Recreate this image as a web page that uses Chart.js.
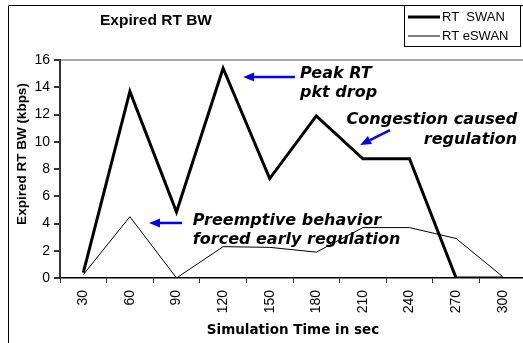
<!DOCTYPE html>
<html>
<head>
<meta charset="utf-8">
<script src="https://cdn.jsdelivr.net/npm/chart.js@4.4.0/dist/chart.umd.min.js"></script>
<style>
  html, body { margin: 0; padding: 0; background: #fff; overflow: hidden; }
  canvas { display: block; }
</style>
</head>
<body>
<canvas id="chart" width="527" height="343"></canvas>
<script>
const chartTitle = "Expired RT BW";
const xTitle = "Simulation Time in sec";
const yTitle = "Expired RT BW (kbps)";

const times = [30, 60, 90, 120, 150, 180, 210, 240, 270, 300];
const swanValues = [0.4, 13.7, 4.85, 15.4, 7.3, 11.9, 8.75, 8.75, 0, 0];
const eswanValues = [0.25, 4.5, 0, 2.3, 2.25, 1.9, 3.7, 3.7, 2.9, 0.1];
const seriesNames = ["RT  SWAN", "RT eSWAN"];
const yTicks = [0, 2, 4, 6, 8, 10, 12, 14, 16];

// callouts, placed in data units (category index, kbps)
const notes = [
  { lines: ["Peak RT", "pkt drop"], x: 4.65, y: 14.68, align: "left", arrow: [4.54, 14.75, 3.43, 14.75] },
  { lines: ["Congestion caused", "regulation"], x: 9.31, y: 11.3, align: "right", arrow: [6.58, 10.86, 5.94, 9.76] },
  { lines: ["Preemptive behavior", "forced early regulation"], x: 2.35, y: 3.89, align: "left", arrow: [2.12, 4.04, 1.41, 4.04] }
];

const sansFont = '"Liberation Sans", Arial, sans-serif';
const noteFont = 'italic bold 16px "DejaVu Sans", Verdana, sans-serif';

// frame, title, legend, y title and callouts
const decor = {
  id: "decor",
  afterDatasetsDraw(chart) {
    const c = chart.ctx;
    const area = chart.chartArea;
    const xs = chart.scales.x;
    const ys = chart.scales.y;
    c.save();

    // outer frame (left + top edges visible)
    c.strokeStyle = "#000";
    c.lineWidth = 1;
    c.beginPath();
    c.moveTo(8.5, 343);
    c.lineTo(8.5, 5.5);
    c.lineTo(chart.width, 5.5);
    c.stroke();

    // title
    c.fillStyle = "#000";
    c.font = "bold 15.5px " + sansFont;
    c.textAlign = "center";
    c.textBaseline = "middle";
    c.fillText(chartTitle, 156, 21);

    // y axis title
    c.save();
    c.translate(area.left - 38, area.top + 94);
    c.rotate(-Math.PI / 2);
    c.font = "bold 13.5px " + sansFont;
    c.fillText(yTitle, 0, 0);
    c.restore();

    // legend box
    c.fillStyle = "#fff";
    c.fillRect(404.5, 5.5, 116, 41);
    c.strokeStyle = "#000";
    c.lineWidth = 1;
    c.strokeRect(404.5, 5.5, 116, 41);
    c.font = "13px " + sansFont;
    c.textAlign = "left";
    c.textBaseline = "middle";
    chart.data.datasets.forEach((ds, i) => {
      const y = 17 + i * 19;
      c.strokeStyle = ds.borderColor;
      c.lineWidth = ds.borderWidth;
      c.beginPath();
      c.moveTo(408, y);
      c.lineTo(440, y);
      c.stroke();
      c.fillStyle = "#000";
      c.fillText(ds.label, 442, y + 0.5);
    });

    // callouts
    c.font = noteFont;
    c.textBaseline = "alphabetic";
    notes.forEach(n => {
      const px = xs.getPixelForValue(n.x);
      const py = ys.getPixelForValue(n.y);
      c.fillStyle = "#000";
      c.textAlign = n.align;
      n.lines.forEach((t, k) => c.fillText(t, px, py + k * 19.5));

      const x1 = xs.getPixelForValue(n.arrow[0]);
      const y1 = ys.getPixelForValue(n.arrow[1]);
      const x2 = xs.getPixelForValue(n.arrow[2]);
      const y2 = ys.getPixelForValue(n.arrow[3]);
      const ang = Math.atan2(y2 - y1, x2 - x1);
      const headLen = 11, headW = 4.5;
      const bx = x2 - headLen * Math.cos(ang);
      const by = y2 - headLen * Math.sin(ang);
      c.strokeStyle = "#0000ff";
      c.fillStyle = "#0000ff";
      c.lineWidth = 2.5;
      c.beginPath();
      c.moveTo(x1, y1);
      c.lineTo(bx, by);
      c.stroke();
      c.beginPath();
      c.moveTo(x2, y2);
      c.lineTo(bx + headW * Math.sin(ang), by - headW * Math.cos(ang));
      c.lineTo(bx - headW * Math.sin(ang), by + headW * Math.cos(ang));
      c.closePath();
      c.fill();
    });
    c.restore();
  }
};

const ctx = document.getElementById("chart").getContext("2d");
const chart = new Chart(ctx, {
  type: "line",
  data: {
    labels: times,
    datasets: [
      {
        label: seriesNames[0],
        data: swanValues,
        borderColor: "#000",
        borderWidth: 3,
        pointRadius: 0,
        tension: 0,
        borderJoinStyle: "miter"
      },
      {
        label: seriesNames[1],
        data: eswanValues,
        borderColor: "#000",
        borderWidth: 1,
        pointRadius: 0,
        tension: 0
      }
    ]
  },
  options: {
    responsive: false,
    animation: false,
    devicePixelRatio: 1,
    layout: { padding: { top: 60, right: 1, left: 0, bottom: 0 } },
    plugins: {
      legend: { display: false },
      title: { display: false },
      tooltip: { enabled: false }
    },
    scales: {
      x: {
        offset: true,
        afterFit: (scale) => { scale.height = 65; },
        grid: {
          offset: true,
          drawOnChartArea: false,
          tickLength: 5,
          tickColor: "#333",
          lineWidth: 1
        },
        border: { color: "#000", width: 1.5 },
        ticks: {
          autoSkip: false,
          minRotation: 90,
          maxRotation: 90,
          padding: 7,
          color: "#000",
          font: { family: sansFont, size: 14 }
        },
        title: {
          display: true,
          text: xTitle,
          color: "#000",
          padding: { top: 0, bottom: 4 },
          font: { family: '"DejaVu Sans", Verdana, sans-serif', size: 13.5, weight: "bold" }
        }
      },
      y: {
        min: 0,
        max: 16,
        afterFit: (scale) => { scale.width = 60; },
        afterBuildTicks: (scale) => { scale.ticks = yTicks.map(v => ({ value: v })); },
        grid: {
          color: (c) => (c.tick && c.tick.value === 16 ? "#a8a8a8" : "rgba(0,0,0,0)"),
          lineWidth: 2,
          tickLength: 6,
          tickColor: "#333"
        },
        border: { color: "#333", width: 2 },
        ticks: {
          padding: 4,
          color: "#000",
          font: { family: sansFont, size: 14 }
        }
      }
    }
  },
  plugins: [decor]
});
</script>
</body>
</html>
